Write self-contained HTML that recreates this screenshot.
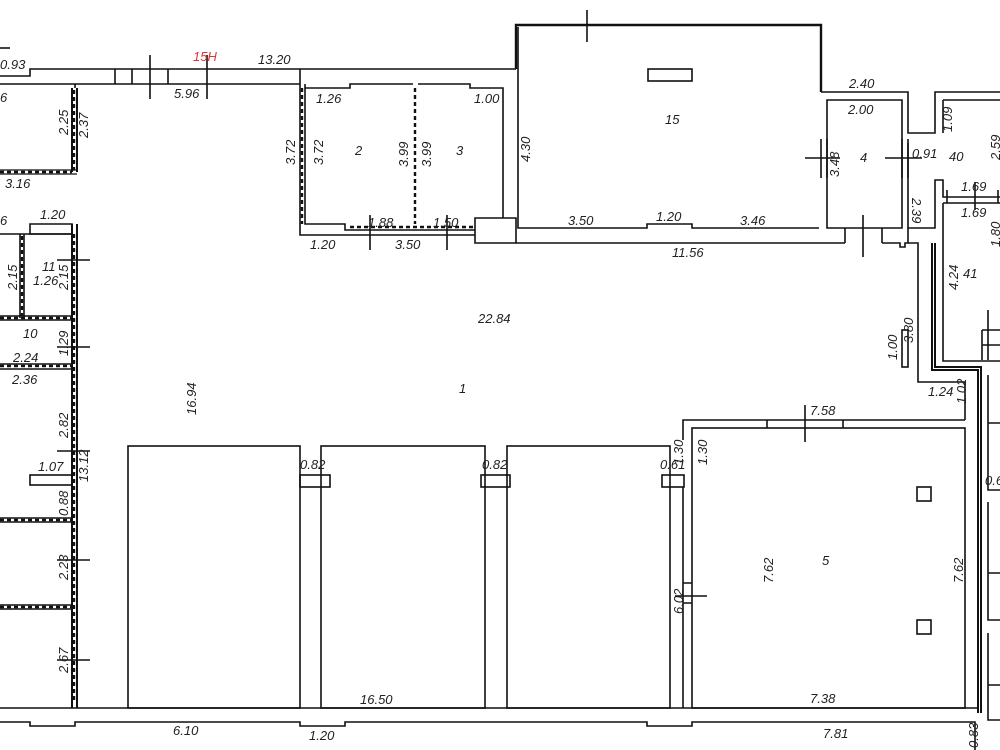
<!DOCTYPE html>
<html><head><meta charset="utf-8"><style>
html,body{margin:0;padding:0;background:#fff;}
svg{display:block}
text{font-family:"Liberation Sans","DejaVu Sans",sans-serif;font-style:italic;font-size:13px;fill:#222;}
</style></head><body>
<svg width="1000" height="750" viewBox="0 0 1000 750" xmlns="http://www.w3.org/2000/svg">
<g fill="none" stroke="#111" stroke-width="1.6">
<path d="M0 48 H10"/>
<path d="M0 76 H30 V69 H516"/>
<path d="M0 84 H75 M75 88 V84 H300"/>
<path d="M115 69 V84 M132 69 V84 M168 69 V84"/>
<path d="M150 55 V99 M207 55 V99"/>
<!-- rooms 2/3 -->
<path d="M300 69 V235 H475"/>
<path d="M305 84 V224 H345 V230 H475"/>
<path d="M305 88 H350 V84 H413 M418 84 H470 V88 H503 V218"/>
<path d="M475 218 H516 V243 H475 Z"/>
<path d="M370 215 V250 M447 215 V250"/>
<!-- room 15 -->
<path d="M516 69 V25 H821 V92" stroke-width="2.4"/>
<path d="M518 27 V228 H647 V224 H692 V228 H819"/>
<path d="M587 10 V42"/>
<rect x="648" y="69" width="44" height="12"/>
<path d="M516 243 H845 M882 243 H900 V247 H905 V243 H918 V382 H965 V420"/>
<path d="M845 228 V243 M882 228 V243 M863 215 V257"/>
<!-- room 4, 40 -->
<path d="M821 92 H908 V133 H935 V92 H1000"/>
<path d="M827 228 V100 H902 V228 Z"/>
<path d="M827 139 V178 M821 139 V178 M805 158 H840 M902 139 V178 M908 139 V178 M885 158 H922"/>
<path d="M908 143 V228 H935 V180 H943 V197 H1000 M943 100 H1000 M943 100 V133"/>
<path d="M943 203 H1000 M943 203 V361 H1000 M947 190 V203 M998 190 V203 M975 182 V210"/>
<path d="M982 330 H1000 M982 330 V360 M988 310 V360 M982 345 H1000"/>
<path d="M908 228 V243"/>
<!-- double wall -->
<path d="M932 243 V370 H978 V713 M935 243 V367 H981 V713" stroke-width="2"/>
<rect x="902" y="330" width="6" height="37"/>
<path d="M988 375 V490 H1000 M988 502 V620 H1000 M988 633 V720 H1000 M988 423 H1000 M988 573 H1000 M988 685 H1000"/>
<!-- room 5 -->
<path d="M683 440 V420 H965"/>
<rect x="692" y="428" width="273" height="280"/>
<path d="M767 420 V428 M843 420 V428 M805 405 V442"/>
<path d="M683 487 V708 M683 583 H692 M683 603 H692 M675 596 H707"/>
<rect x="917" y="487" width="14" height="14"/>
<rect x="917" y="620" width="14" height="14"/>
<!-- partitions -->
<rect x="128" y="446" width="172" height="262"/>
<rect x="321" y="446" width="164" height="262"/>
<rect x="507" y="446" width="163" height="262"/>
<rect x="300" y="475" width="30" height="12"/>
<rect x="481" y="475" width="29" height="12"/>
<rect x="662" y="475" width="22" height="12"/>
<!-- bottom wall -->
<path d="M0 708 H978"/>
<path d="M0 722 H30 V726 H75 V722 H300 V726 H345 V722 H647 V726 H692 V722 H975 V750"/>
<!-- left column -->
<path d="M72 88 V172 M77 88 V172 M72 224 V708 M77 224 V708" stroke-width="2"/>
<path d="M0 170 H77 M0 174 H77" stroke-width="1.2"/>
<path d="M30 224 H72 V234 H30 Z"/>
<path d="M0 234 H72 M20 234 V318 M24 234 V318 M0 316 H72 M0 320 H72 M0 364 H72 M0 369 H72"/>
<path d="M0 518 H72 M0 522 H72 M0 605 H72 M0 609 H72"/>
<rect x="30" y="475" width="42" height="10"/>
<path d="M57 260 H90 M57 347 H90 M57 451 H90 M57 560 H90 M57 660 H90"/>
</g>
<g stroke="#111" stroke-width="2.4" stroke-dasharray="4 3" fill="none">
<path d="M302 88 V224 M415 88 V224 M74 90 V170 M74 234 V700 M0 172 H72 M0 318 H72 M0 366 H72 M0 520 H72 M0 607 H72 M22 236 V316 M350 227 H475"/>
</g>
<text x="0" y="69">0.93</text>
<text x="193" y="61" style="fill:#d33">15Н</text>
<text x="258" y="64">13.20</text>
<text x="174" y="98">5.96</text>
<text x="316" y="103">1.26</text>
<text x="474" y="103">1.00</text>
<text x="0" y="102">6</text>
<text x="5" y="188">3.16</text>
<text x="0" y="225">6</text>
<text x="40" y="219">1.20</text>
<text x="355" y="155">2</text>
<text x="456" y="155">3</text>
<text x="368" y="227">1.88</text>
<text x="433" y="227">1.50</text>
<text x="310" y="249">1.20</text>
<text x="395" y="249">3.50</text>
<text x="665" y="124">15</text>
<text x="568" y="225">3.50</text>
<text x="656" y="221">1.20</text>
<text x="740" y="225">3.46</text>
<text x="672" y="257">11.56</text>
<text x="849" y="88">2.40</text>
<text x="848" y="114">2.00</text>
<text x="860" y="162">4</text>
<text x="912" y="158">0.91</text>
<text x="949" y="161">40</text>
<text x="961" y="191">1.69</text>
<text x="961" y="217">1.69</text>
<text x="963" y="278">41</text>
<text x="478" y="323">22.84</text>
<text x="459" y="393">1</text>
<text x="928" y="396">1.24</text>
<text x="810" y="415">7.58</text>
<text x="822" y="565">5</text>
<text x="810" y="703">7.38</text>
<text x="823" y="738">7.81</text>
<text x="360" y="704">16.50</text>
<text x="173" y="735">6.10</text>
<text x="309" y="740">1.20</text>
<text x="300" y="469">0.82</text>
<text x="482" y="469">0.82</text>
<text x="660" y="469">0.61</text>
<text x="42" y="271">11</text>
<text x="33" y="285">1.26</text>
<text x="23" y="338">10</text>
<text x="13" y="362">2.24</text>
<text x="12" y="384">2.36</text>
<text x="38" y="471">1.07</text>
<text x="985" y="485">0.6</text>
<g>
<text transform="translate(68,135) rotate(-90)">2.25</text>
<text transform="translate(88,138) rotate(-90)">2.37</text>
<text transform="translate(295,165) rotate(-90)">3.72</text>
<text transform="translate(323,165) rotate(-90)">3.72</text>
<text transform="translate(408,167) rotate(-90)">3.99</text>
<text transform="translate(431,167) rotate(-90)">3.99</text>
<text transform="translate(530,162) rotate(-90)">4.30</text>
<text transform="translate(839,177) rotate(-90)">3.48</text>
<text transform="translate(912,198) rotate(90)">2.39</text>
<text transform="translate(952,132) rotate(-90)">1.09</text>
<text transform="translate(1000,160) rotate(-90)">2.59</text>
<text transform="translate(1000,247) rotate(-90)">1.80</text>
<text transform="translate(958,290) rotate(-90)">4.24</text>
<text transform="translate(913,343) rotate(-90)">3.80</text>
<text transform="translate(897,360) rotate(-90)">1.00</text>
<text transform="translate(966,404) rotate(-90)">1.02</text>
<text transform="translate(683,465) rotate(-90)">1.30</text>
<text transform="translate(707,465) rotate(-90)">1.30</text>
<text transform="translate(683,614) rotate(-90)">6.02</text>
<text transform="translate(773,583) rotate(-90)">7.62</text>
<text transform="translate(963,583) rotate(-90)">7.62</text>
<text transform="translate(978,748) rotate(-90)">0.83</text>
<text transform="translate(196,415) rotate(-90)">16.94</text>
<text transform="translate(17,290) rotate(-90)">2.15</text>
<text transform="translate(68,290) rotate(-90)">2.15</text>
<text transform="translate(68,356) rotate(-90)">1.29</text>
<text transform="translate(68,438) rotate(-90)">2.82</text>
<text transform="translate(88,482) rotate(-90)">13.12</text>
<text transform="translate(68,516) rotate(-90)">0.88</text>
<text transform="translate(68,580) rotate(-90)">2.23</text>
<text transform="translate(68,673) rotate(-90)">2.67</text>
</g>
</svg>
</body></html>
